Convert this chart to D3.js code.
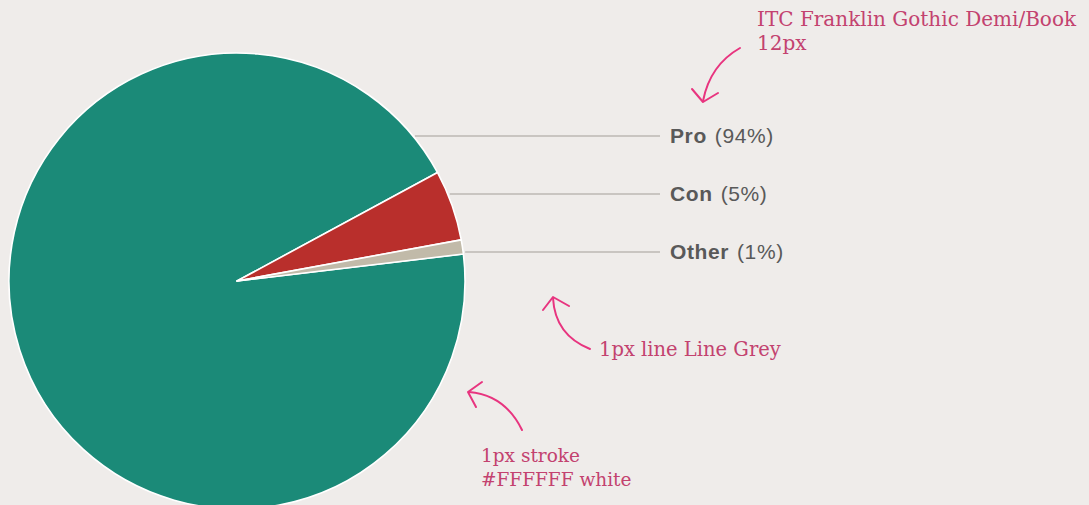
<!DOCTYPE html>
<html><head><meta charset="utf-8">
<script src="https://cdn.jsdelivr.net/npm/d3@7"></script>
<style>
html,body{margin:0;padding:0;background:#efecea;}
svg{display:block;}
</style></head>
<body>
<svg id="chart" width="1089" height="505"></svg>
<script>
const categories = ["Pro", "Con", "Other"];
const values = [94, 5, 1];
const percentLabels = ["94%", "5%", "1%"];
const colors = ["#1b8a78", "#b92f2c", "#c1baa9"];

const noteLines = [
  ["ITC Franklin Gothic Demi/Book", "12px"],
  ["1px line Line Grey"],
  ["1px stroke", "#FFFFFF white"]
];

const W = 1089, H = 505;
const cx = 237, cy = 281, R = 228;
const svg = d3.select("#chart");
svg.append("rect").attr("width", W).attr("height", H).attr("fill", "#efecea");

const data = categories.map((c, i) => ({cat: c, value: values[i], pct: percentLabels[i], color: colors[i]}));

// Con slice begins at ~61.6deg clockwise from 12 o'clock
const conStart = 61.6 * Math.PI / 180;
const total = d3.sum(values);
const start = conStart - 2 * Math.PI * values[0] / total;
const pie = d3.pie().sort(null).value(d => d.value).startAngle(start).endAngle(start + 2 * Math.PI);
const arc = d3.arc().innerRadius(0).outerRadius(R);

const g = svg.append("g").attr("transform", `translate(${cx},${cy})`);
g.selectAll("path").data(pie(data)).join("path")
  .attr("d", arc)
  .attr("fill", d => d.data.color)
  .attr("stroke", "#ffffff")
  .attr("stroke-width", 1.6)
  .attr("stroke-linejoin", "round");

// labels
const ly = d3.scalePoint().domain(categories).range([136, 252]);
const labelX = 670, lineEnd = 660;
const lab = svg.append("g");
data.forEach(d => {
  const y = ly(d.cat);
  const dy = y - cy;
  const x0 = cx + Math.sqrt(R * R - dy * dy) + 2;
  lab.append("line").attr("x1", x0).attr("x2", lineEnd).attr("y1", y).attr("y2", y)
    .attr("stroke", "#bdb9b3").attr("stroke-width", 1.3);
  const t = lab.append("text").attr("x", labelX).attr("y", y + 7)
    .attr("font-family", "'Liberation Sans', Arial, sans-serif")
    .attr("font-size", 21).attr("letter-spacing", 0.6).attr("fill", "#595959");
  t.append("tspan").attr("font-weight", "bold").text(d.cat);
  t.append("tspan").attr("dx", 8).text(`(${d.pct})`);
});

// annotations
const pink = "#c3426f", arrowPink = "#e8347f";
const notes = [
  {x: 757, y: 26, lh: 24, fs: 20, arrow: "M740,48 Q710,65 703,101", head: "M692,89 L703,102 L718,93"},
  {x: 599, y: 356, lh: 24, fs: 19.5, arrow: "M590,349 Q555,335 553,298", head: "M543,310 L553,297 L569,306"},
  {x: 481, y: 462, lh: 24, fs: 18.5, arrow: "M522,430 Q505,395 469,392", head: "M482,382 L468,392 L476,407"}
];
const an = svg.append("g");
notes.forEach((n, i) => {
  const t = an.append("text").attr("font-family", "'DejaVu Serif', serif")
    .attr("font-size", n.fs).attr("fill", pink);
  noteLines[i].forEach((s, j) => t.append("tspan").attr("x", n.x).attr("y", n.y + j * n.lh).text(s));
  an.append("path").attr("d", n.arrow).attr("fill", "none").attr("stroke", arrowPink)
    .attr("stroke-width", 2).attr("stroke-linecap", "round");
  an.append("path").attr("d", n.head).attr("fill", "none").attr("stroke", arrowPink)
    .attr("stroke-width", 2).attr("stroke-linecap", "round").attr("stroke-linejoin", "round");
});
</script>
</body></html>
